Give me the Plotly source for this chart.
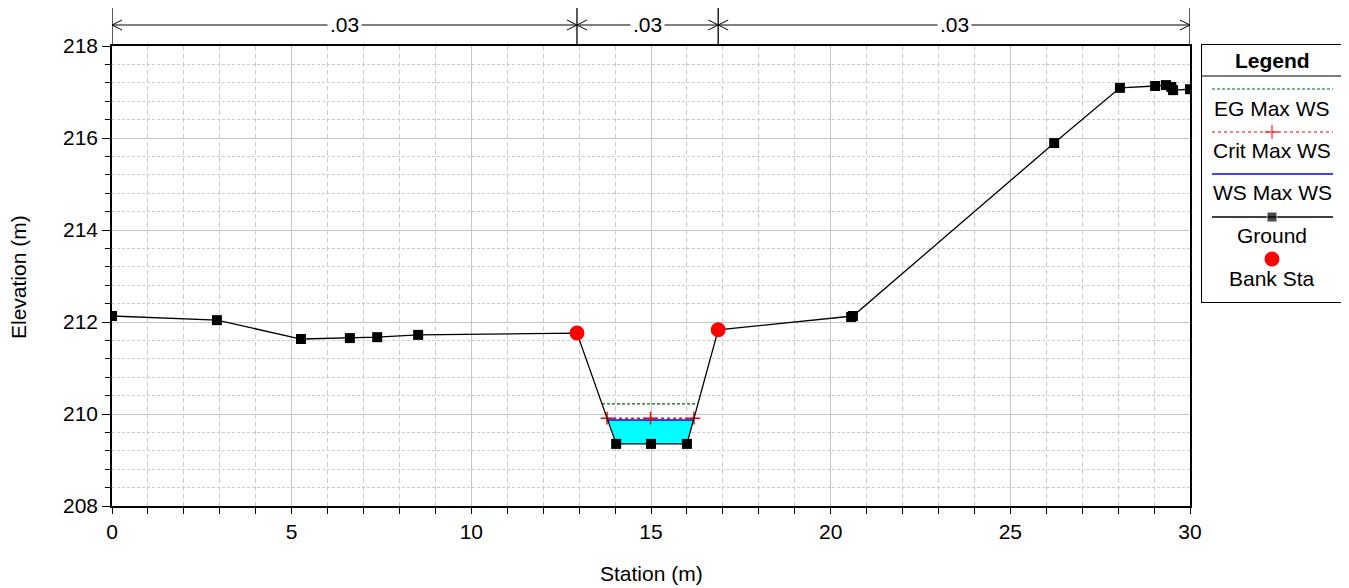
import numpy as np
import plotly.graph_objects as go

# ---------------- data ----------------
station = [0.0, 2.92, 5.26, 6.62, 7.38, 8.52, 12.94, 14.03, 15.0, 16.0, 16.87,
           20.57, 20.62, 26.22, 28.05, 29.03, 29.33, 29.48, 29.53, 30.0]
elevation = [212.13, 212.04, 211.63, 211.65, 211.67, 211.72, 211.76, 209.35, 209.35, 209.35,
             211.83, 212.11, 212.13, 215.89, 217.09, 217.13, 217.15, 217.11, 217.04, 217.06]
bank_sta = [12.94, 16.87]
ws_max = 209.87
crit_max = 209.91
eg_max = 210.22
n_values = [".03", ".03", ".03"]
series_names = ["EG Max WS", "Crit Max WS", "WS Max WS", "Ground", "Bank Sta"]
x_ticks = [0, 5, 10, 15, 20, 25, 30]
y_ticks = [208, 210, 212, 214, 216, 218]
x_title = "Station (m)"
y_title = "Elevation (m)"

# ---------------- derived ----------------
st = np.array(station)
el = np.array(elevation)
ib0, ib1 = station.index(bank_sta[0]), station.index(bank_sta[1])
ch_st, ch_el = st[ib0:ib1 + 1], el[ib0:ib1 + 1]
mins = np.where(ch_el == ch_el.min())[0]
imin, jmin = mins[0], mins[-1]


def crossings(level):
    lx = np.interp(level, ch_el[:imin + 1][::-1], ch_st[:imin + 1][::-1])
    rx = np.interp(level, ch_el[jmin:], ch_st[jmin:])
    return lx, rx


ws_l, ws_r = crossings(ws_max)
cr_l, cr_r = crossings(crit_max)
eg_l, eg_r = crossings(eg_max)
bank_el = [elevation[ib0], elevation[ib1]]

# ---------------- layout geometry (screen pixels; page body has an 8px margin) ----------------
OFF = 8
W, H = 1349 - OFF, 588 - OFF
ML, MB = 112 - OFF, 82
PW, PH = W - ML, H - MB
PLOT_R, PLOT_T, PLOT_B = 1190, 46, 506


def px(x):
    return (x - OFF - ML) / PW


def py(y):
    return (PH - (y - OFF)) / PH


FONT = "Arial, Liberation Sans, sans-serif"
FS = 21

fig = go.Figure()

# water fill
fill_x = [ws_l] + list(ch_st[imin:jmin + 1]) + [ws_r]
fill_y = [ws_max] + list(ch_el[imin:jmin + 1]) + [ws_max]
fig.add_trace(go.Scatter(x=fill_x, y=fill_y, fill="toself", fillcolor="#00FFFF",
                         line=dict(width=0), mode="lines", hoverinfo="skip", showlegend=False))
# EG
fig.add_trace(go.Scatter(x=[eg_l, eg_r], y=[eg_max, eg_max], mode="lines",
                         line=dict(color="#006a00", width=1.2, dash="3px,2px"), name=series_names[0],
                         showlegend=False))
# WS
fig.add_trace(go.Scatter(x=[ws_l, ws_r], y=[ws_max, ws_max], mode="lines",
                         line=dict(color="#0000FF", width=1.5), name=series_names[2], showlegend=False))
# Crit
fig.add_trace(go.Scatter(x=[cr_l, (cr_l + cr_r) / 2, cr_r], y=[crit_max] * 3, mode="lines+markers",
                         line=dict(color="#FF0000", width=1.5, dash="dot"),
                         marker=dict(symbol="cross-thin", size=9, line=dict(color="#FF0000", width=1.5)),
                         name=series_names[1], showlegend=False))
# Ground
fig.add_trace(go.Scatter(x=station, y=elevation, mode="lines+markers",
                         line=dict(color="black", width=1.3),
                         marker=dict(symbol="square", size=10, color="black"),
                         name=series_names[3], showlegend=False))
# Bank stations
fig.add_trace(go.Scatter(x=bank_sta, y=bank_el, mode="markers",
                         marker=dict(symbol="circle", size=15, color="#FF0000"),
                         name=series_names[4], showlegend=False))

# ---------------- n-value band above the plot ----------------
breaks = [x_ticks[0]] + bank_sta + [x_ticks[-1]]
y_arrow = py(25)
shapes = []
for b in breaks:
    shapes.append(dict(type="line", xref="x", yref="paper", x0=b, x1=b,
                       y0=py(PLOT_T), y1=py(4), line=dict(color="black", width=1.3)))
annotations = []
for i, lab in enumerate(n_values):
    a, b = breaks[i], breaks[i + 1]
    shapes.append(dict(type="line", xref="x", yref="paper", x0=a, x1=b, y0=y_arrow, y1=y_arrow,
                       line=dict(color="black", width=1)))
    for tip, d in ((a, 1), (b, -1)):
        for s in (1, -1):
            shapes.append(dict(type="line", xref="x", yref="paper", xsizemode="pixel",
                               ysizemode="pixel", xanchor=tip, yanchor=y_arrow,
                               x0=0, x1=d * 10, y0=0, y1=s * 5,
                               line=dict(color="black", width=1)))
    annotations.append(dict(x=(a + b) / 2, y=y_arrow, xref="x", yref="paper", text=lab,
                            showarrow=False, bgcolor="white", borderpad=2,
                            font=dict(family=FONT, size=FS, color="black"),
                            xanchor="center", yanchor="middle"))

# axis titles
annotations.append(dict(x=px(651), y=py(573), xref="paper", yref="paper", text=x_title,
                        showarrow=False, font=dict(family=FONT, size=FS, color="black"),
                        xanchor="center", yanchor="middle"))
annotations.append(dict(x=px(18), y=py(277), xref="paper", yref="paper", text=y_title,
                        showarrow=False, textangle=-90, font=dict(family=FONT, size=FS, color="black"),
                        xanchor="center", yanchor="middle"))

# ---------------- custom legend box ----------------
LX0, LX1, LY0, LY1 = 1202, 1342, 45, 302
lw, lh = LX1 - LX0, LY1 - LY0
ll0, ll1 = 10, 131
lc = 70
shapes.append(dict(type="line", xref="x2", yref="y2", x0=0, x1=lw, y0=31, y1=31,
                   line=dict(color="black", width=1)))
annotations.append(dict(x=lc, y=15, xref="x2", yref="y2", text="<b>Legend</b>", showarrow=False,
                        font=dict(family=FONT, size=FS, color="black")))
fig.add_trace(go.Scatter(x=[ll0, ll1], y=[44, 44], xaxis="x2", yaxis="y2", mode="lines",
                         line=dict(color="#006a00", width=1.2, dash="3px,2px"), showlegend=False,
                         hoverinfo="skip"))
fig.add_trace(go.Scatter(x=[ll0, lc, ll1], y=[87, 87, 87], xaxis="x2", yaxis="y2",
                         mode="lines+markers", line=dict(color="#FF0000", width=1.2, dash="dot"),
                         marker=dict(symbol="cross-thin", size=[0, 10, 0],
                                     line=dict(color="#FF0000", width=1.5)),
                         showlegend=False, hoverinfo="skip"))
fig.add_trace(go.Scatter(x=[ll0, ll1], y=[129, 129], xaxis="x2", yaxis="y2", mode="lines",
                         line=dict(color="#0000FF", width=1.5), showlegend=False, hoverinfo="skip"))
fig.add_trace(go.Scatter(x=[ll0, lc, ll1], y=[172, 172, 172], xaxis="x2", yaxis="y2",
                         mode="lines+markers", line=dict(color="black", width=1.3),
                         marker=dict(symbol="square", size=[0, 10, 0], color="black"),
                         showlegend=False, hoverinfo="skip"))
fig.add_trace(go.Scatter(x=[lc], y=[214], xaxis="x2", yaxis="y2", mode="markers",
                         marker=dict(symbol="circle", size=15, color="#FF0000"),
                         showlegend=False, hoverinfo="skip"))
for name, yy in zip(series_names, [63, 105, 147, 190, 233]):
    annotations.append(dict(x=lc, y=yy, xref="x2", yref="y2", text=name, showarrow=False,
                            font=dict(family=FONT, size=FS, color="black")))

grid_major = "#c4c4c4"
grid_minor = "#cccccc"

fig.update_layout(
    width=W, height=H, autosize=False,
    margin=dict(l=ML, r=0, t=0, b=MB, pad=0),
    paper_bgcolor="white", plot_bgcolor="white",
    font=dict(family=FONT, size=FS, color="black"),
    showlegend=False,
    shapes=shapes, annotations=annotations,
    xaxis=dict(domain=[0, px(PLOT_R)], range=[0, 30], tickvals=x_ticks, automargin=False,
               showline=True, linecolor="black", linewidth=1.5, mirror=True,
               ticks="outside", ticklen=6, tickcolor="black", tickwidth=1,
               showgrid=True, gridcolor=grid_major, gridwidth=1, zeroline=False,
               minor=dict(dtick=1, ticks="outside", ticklen=6, tickcolor="black",
                          showgrid=True, gridcolor=grid_minor, griddash="5px,3px", gridwidth=1),
               tickfont=dict(family=FONT, size=FS)),
    yaxis=dict(domain=[0, py(PLOT_T)], range=[208, 218], tickvals=y_ticks, automargin=False,
               showline=True, linecolor="black", linewidth=1.5, mirror=True,
               ticks="outside", ticklen=8, tickcolor="black", tickwidth=1,
               showgrid=True, gridcolor=grid_major, gridwidth=1, zeroline=False,
               minor=dict(dtick=0.4, tick0=208, ticks="outside", ticklen=5, tickcolor="black",
                          showgrid=True, gridcolor=grid_minor, griddash="3px,2px", gridwidth=1),
               tickfont=dict(family=FONT, size=FS)),
    xaxis2=dict(domain=[px(LX0), px(LX1)], range=[0, lw], anchor="y2", automargin=False,
                showline=True, linecolor="black", linewidth=1.3, mirror=True,
                showticklabels=False, ticks="", showgrid=False, zeroline=False, fixedrange=True),
    yaxis2=dict(domain=[py(LY1), py(LY0)], range=[lh, 0], anchor="x2", automargin=False,
                showline=True, linecolor="black", linewidth=1.3, mirror=True,
                showticklabels=False, ticks="", showgrid=False, zeroline=False, fixedrange=True),
)

fig.write_html("out.html")
